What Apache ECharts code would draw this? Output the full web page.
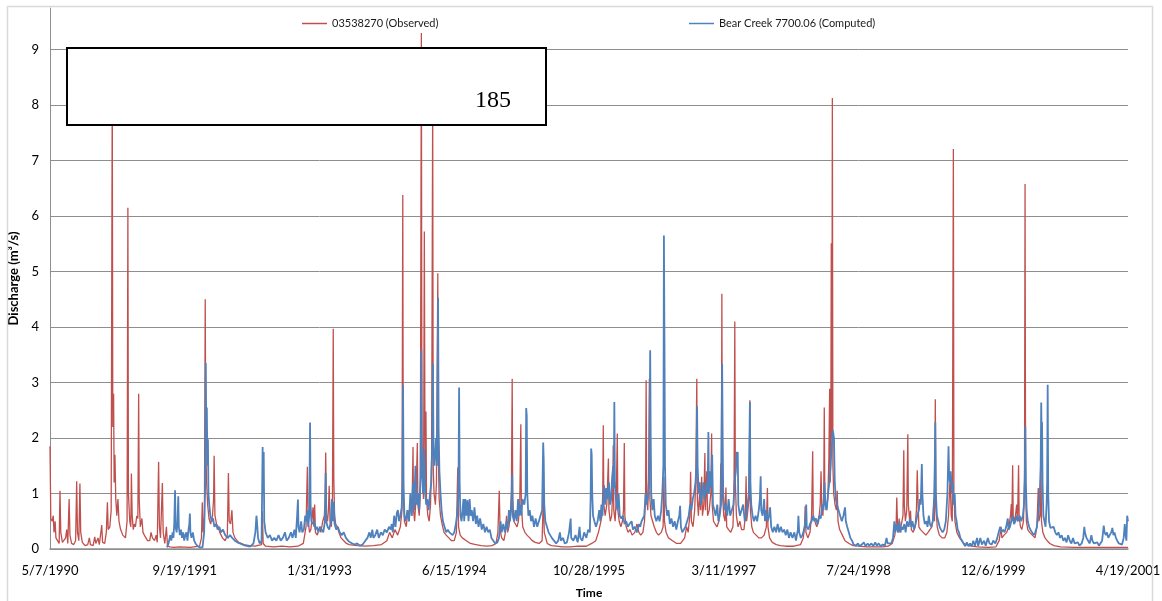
<!DOCTYPE html>
<html>
<head>
<meta charset="utf-8">
<script src="https://cdn.jsdelivr.net/npm/echarts@6/dist/echarts.min.js"></script>
<style>
  html, body { margin: 0; padding: 0; background: #fff; }
  #chart { width: 1162px; height: 601px; }
</style>
</head>
<body>
<div id="chart"></div>
<script>
// Daily discharge, Bear Creek. x = days since 5/7/1990, y = discharge (m3/s)
const tickLabels = ['5/7/1990', '9/19/1991', '1/31/1993', '6/15/1994', '10/28/1995',
  '3/11/1997', '7/24/1998', '12/6/1999', '4/19/2001'];
const seriesNames = ['03538270 (Observed)', 'Bear Creek 7700.06 (Computed)'];
const noteText = '185';

const observed = [
[0,1.85],[3,0.55],[8,0.5],[12,0.6],[15,0.3],[19,0.5],[22,0.2],[28,0.15],[34,0.1],[37,1.05],[40,0.3],[46,0.12],[52,0.1],[58,0.2],[62,0.35],[66,0.1],[71,0.9],[74,0.25],[80,0.1],[88,0.08],[95,0.15],[99,1.22],[102,0.3],[107,0.15],[111,1.18],[114,0.3],[120,0.12],[130,0.06],[140,0.08],[146,0.2],[150,0.08],[160,0.06],[166,0.22],[170,0.1],[178,0.2],[183,0.08],[188,0.1],[192,0.43],[195,0.12],[203,0.1],[209,0.3],[213,0.84],[216,0.35],[222,0.4],[227,0.7],[231,8.4],[233,2.2],[236,2.8],[238,1.2],[241,1.7],[244,0.9],[248,0.6],[252,0.9],[256,0.5],[262,0.35],[270,0.25],[280,0.2],[286,0.5],[289,6.15],[291,1.0],[296,0.5],[300,0.4],[302,1.36],[305,0.6],[309,0.35],[313,0.45],[317,0.4],[322,0.6],[326,0.55],[329,2.8],[331,0.9],[335,0.4],[341,0.55],[345,0.3],[350,0.25],[356,0.2],[362,0.15],[370,0.15],[375,0.3],[380,0.2],[388,0.15],[394,0.25],[398,0.12],[403,1.57],[406,0.4],[410,0.2],[417,1.19],[420,0.3],[426,0.1],[432,0.4],[436,0.05],[445,0.04],[460,0.03],[480,0.04],[520,0.03],[555,0.05],
[562,0.2],[565,0.84],[568,0.3],[573,0.6],[576,4.5],[578,1.9],[581,1.2],[585,0.8],[590,0.55],[596,0.45],[603,0.6],[607,0.9],[609,1.68],[612,0.6],[618,0.45],[624,0.4],[630,0.3],[640,0.2],[650,0.15],[658,0.25],[662,1.37],[665,0.5],[670,0.45],[675,0.7],[679,0.3],[686,0.2],[700,0.12],[720,0.08],[740,0.06],[760,0.05],[785,0.08],[788,0.68],[791,0.1],[800,0.05],[830,0.04],[860,0.05],[890,0.04],[920,0.05],[940,0.1],[950,0.4],[955,1.48],[958,0.5],[963,0.3],[968,0.35],[973,0.6],[976,0.75],[979,0.4],[982,0.8],[985,0.3],[992,0.25],[1000,0.4],[1005,0.3],[1012,0.5],[1018,0.6],[1021,0.9],[1023,1.74],[1026,0.6],[1030,0.5],[1033,0.7],[1036,1.14],[1039,0.5],[1044,0.4],[1048,0.8],[1051,3.97],[1053,1.3],[1056,0.6],[1060,0.45],[1066,0.4],[1072,0.3],[1080,0.2],[1090,0.15],[1100,0.1],
[1110,0.08],[1140,0.06],[1170,0.05],[1200,0.06],[1230,0.08],[1250,0.15],[1260,0.3],[1270,0.2],[1280,0.35],[1290,0.25],[1300,0.4],[1306,0.7],[1309,6.38],[1311,1.0],[1315,0.5],[1322,0.4],[1328,0.7],[1333,0.5],[1338,0.9],[1343,0.6],[1347,1.84],[1349,0.7],[1353,0.5],[1358,0.9],[1363,1.91],[1365,0.8],[1370,0.6],[1374,1.0],[1378,9.3],[1380,2.0],[1383,1.2],[1386,0.9],[1389,5.72],[1391,2.5],[1393,1.0],[1395,2.48],[1397,0.9],[1402,0.6],[1407,0.5],[1412,0.8],[1416,1.7],[1420,8.0],[1422,1.5],[1425,1.0],[1430,0.8],[1434,1.2],[1439,4.97],[1441,1.7],[1444,0.9],[1449,0.6],[1455,0.45],[1462,0.3],[1470,0.25],[1480,0.2],[1490,0.15],[1500,0.15],[1508,0.3],[1513,1.47],[1516,0.4],[1522,0.25],[1530,0.2],[1545,0.15],[1560,0.1],[1580,0.08],[1600,0.06],[1620,0.05],[1640,0.06],[1655,0.1],[1662,0.3],[1667,1.05],[1670,0.35],[1676,0.2],[1684,0.15],[1690,0.3],[1694,0.6],[1698,0.3],[1703,0.4],[1708,0.6],[1712,1.0],[1715,3.07],[1717,0.9],[1721,0.5],[1727,0.45],[1733,0.4],[1738,0.5],[1743,0.8],[1747,2.25],[1749,0.8],[1754,0.4],[1762,0.3],[1770,0.25],[1780,0.2],[1790,0.15],[1800,0.12],[1815,0.1],[1826,0.15],[1831,1.0],[1834,0.3],[1845,0.1],[1860,0.06],[1880,0.05],[1900,0.04],[1930,0.04],[1960,0.05],[1990,0.05],
[2010,0.1],[2025,0.15],[2035,0.3],[2042,0.45],[2048,0.6],[2051,1.0],[2053,2.23],[2055,0.8],[2060,0.6],[2066,0.8],[2069,1.2],[2072,1.63],[2074,0.7],[2079,0.5],[2084,0.6],[2088,1.0],[2090,1.87],[2092,0.7],[2097,0.5],[2101,0.9],[2105,2.08],[2107,0.7],[2112,0.5],[2118,0.4],[2124,0.5],[2128,0.7],[2131,1.91],[2133,0.6],[2138,0.4],[2145,0.3],[2152,0.35],[2160,0.25],[2170,0.3],[2178,0.45],[2185,0.3],[2192,0.25],[2200,0.3],[2206,0.5],[2210,1.0],[2212,3.04],[2214,0.9],[2218,0.7],[2221,1.2],[2224,3.07],[2226,0.9],[2230,0.6],[2236,0.5],[2242,0.4],[2250,0.3],[2258,0.25],[2268,0.3],[2275,0.4],[2278,1.3],[2280,0.5],[2286,0.3],[2295,0.2],[2310,0.15],[2325,0.1],[2340,0.1],[2355,0.2],[2362,0.4],[2368,0.3],[2374,0.6],[2377,1.39],[2380,0.5],[2386,0.4],[2392,0.7],[2396,1.2],[2400,3.07],[2402,0.9],[2406,0.6],[2410,1.0],[2414,0.7],[2418,1.3],[2421,0.6],[2426,0.8],[2430,1.73],[2432,0.7],[2437,1.4],[2440,0.6],[2446,0.7],[2452,1.0],[2455,2.08],[2457,0.8],[2462,0.5],[2468,0.45],[2475,0.4],[2482,0.5],[2487,0.8],[2489,1.54],[2491,1.0],[2493,4.6],[2495,1.0],[2500,0.6],[2505,0.5],[2508,1.11],[2511,0.4],[2518,0.35],[2526,0.3],[2534,0.4],[2538,1.0],[2541,4.1],[2543,1.2],[2547,0.6],[2553,0.4],[2560,0.5],[2566,0.35],[2575,0.35],[2580,0.6],[2583,1.31],[2585,0.5],[2590,0.5],[2594,0.9],[2597,2.68],[2599,0.7],[2604,0.4],[2610,0.3],[2620,0.25],[2630,0.2],[2640,0.2],[2650,0.25],[2658,0.4],[2662,1.1],[2664,0.4],[2670,0.2],[2680,0.12],[2695,0.08],[2710,0.06],[2730,0.05],[2760,0.05],[2785,0.08],
[2795,0.2],[2800,0.4],[2802,0.77],[2805,0.3],[2812,0.2],[2820,0.3],[2826,0.6],[2830,1.76],[2832,0.6],[2838,0.5],[2845,0.4],[2852,0.5],[2858,0.8],[2861,1.4],[2864,0.7],[2868,0.6],[2871,1.0],[2873,2.55],[2875,1.0],[2880,0.7],[2886,0.9],[2890,1.6],[2893,2.89],[2895,1.2],[2897,1.5],[2899,5.51],[2901,2.0],[2903,8.13],[2905,1.5],[2908,1.0],[2913,0.8],[2918,0.7],[2921,1.05],[2924,0.5],[2930,0.35],[2940,0.25],[2950,0.15],[2965,0.1],[2980,0.06],[3000,0.05],[3030,0.04],[3060,0.04],[3090,0.04],[3110,0.05],[3125,0.1],[3135,0.25],[3140,0.5],[3142,0.93],[3145,0.4],[3148,0.3],[3151,0.55],[3154,0.3],[3160,0.3],[3165,0.6],[3168,1.78],[3170,0.8],[3174,0.5],[3179,0.7],[3183,2.07],[3185,0.8],[3190,0.5],[3193,0.69],[3196,0.35],[3203,0.3],[3210,0.4],[3215,0.7],[3218,1.42],[3220,1.0],[3224,0.4],[3230,0.35],[3240,0.3],[3250,0.25],[3258,0.3],[3265,0.35],[3272,0.4],[3277,0.6],[3279,0.89],[3282,0.5],[3285,2.7],[3287,0.8],[3292,0.4],[3300,0.25],[3310,0.2],[3320,0.2],[3328,0.3],[3334,0.6],[3340,1.3],[3344,0.6],[3348,0.5],[3352,7.21],[3354,1.0],[3358,0.5],[3365,0.3],[3375,0.2],[3390,0.1],[3410,0.06],[3440,0.04],[3480,0.03],[3510,0.04],[3522,0.15],[3529,0.4],[3532,0.2],[3540,0.25],[3550,0.3],[3558,0.4],[3564,0.6],[3567,0.81],[3569,0.5],[3572,1.51],[3574,0.6],[3580,0.5],[3587,0.8],[3590,0.5],[3594,1.51],[3596,0.6],[3601,0.4],[3606,0.35],[3612,0.5],[3616,1.2],[3618,6.58],[3620,1.2],[3623,0.5],[3628,0.35],[3635,0.3],[3645,0.25],[3655,0.2],[3662,0.4],[3667,1.1],[3669,0.5],[3674,0.6],[3677,1.6],[3679,0.5],[3684,0.3],[3692,0.2],[3700,0.15],[3710,0.1],[3725,0.06],[3750,0.04],[3800,0.03],[3850,0.03],[3900,0.03],[3950,0.03],[4000,0.03]
];

const computed = [
[434,0.03],[440,0.1],[446,0.25],[450,0.15],[455,0.3],[458,0.2],[461,0.45],[464,1.06],[466,0.4],[470,0.3],[473,0.5],[476,0.95],[478,0.4],[482,0.25],[486,0.35],[490,0.2],[494,0.3],[498,0.15],[502,0.25],[506,0.3],[510,0.15],[514,0.35],[517,0.45],[519,0.64],[521,0.3],[525,0.2],[530,0.3],[535,0.15],[540,0.1],[548,0.05],[556,0.03],[566,0.03],[572,0.3],[576,1.2],[578,3.35],[580,2.0],[582,2.55],[584,1.5],[586,1.98],[588,1.0],[591,0.8],[595,0.6],[600,0.5],[605,0.55],[610,0.4],[616,0.45],[622,0.35],[628,0.4],[635,0.3],[642,0.35],[650,0.25],[660,0.2],[668,0.25],[676,0.2],[686,0.15],[695,0.12],[705,0.1],[715,0.08],[725,0.06],[735,0.05],[745,0.05],[755,0.1],[762,0.3],[766,0.6],[768,0.5],[772,0.2],[778,0.1],[785,0.15],[789,1.84],[791,1.0],[793,1.75],[795,0.5],[800,0.3],[808,0.2],[816,0.25],[824,0.15],[832,0.2],[840,0.15],[848,0.25],[856,0.15],[864,0.2],[872,0.3],[878,0.15],[886,0.2],[894,0.3],[900,0.2],[907,0.35],[912,0.2],[917,0.6],[920,0.89],[922,0.4],[926,0.3],[932,0.5],[936,0.3],[942,0.35],[947,0.6],[951,0.5],[955,0.7],[958,0.4],[962,0.6],[965,2.28],[967,0.8],[970,0.5],[975,0.45],[980,0.5],[985,0.35],[990,0.4],[996,0.3],[1002,0.4],[1008,0.35],[1014,0.3],[1020,0.5],[1023,1.37],[1025,0.5],[1030,0.4],[1036,0.35],[1042,0.5],[1046,0.9],[1049,0.5],[1053,0.85],[1056,0.45],[1062,0.35],[1068,0.4],[1075,0.3],[1082,0.25],[1090,0.3],[1098,0.2],[1106,0.15],[1114,0.12],[1122,0.1],[1130,0.08],[1140,0.1],[1150,0.06],[1160,0.08],[1170,0.15],[1178,0.2],[1185,0.3],[1190,0.2],[1196,0.35],[1200,0.2],[1207,0.25],[1214,0.35],[1220,0.2],[1228,0.3],[1235,0.25],[1242,0.35],[1250,0.3],[1258,0.4],[1264,0.35],[1268,0.45],[1272,0.3],[1277,0.6],[1282,0.4],[1287,0.65],[1291,0.7],[1295,0.5],[1300,0.6],[1305,0.75],[1308,1.2],[1310,2.95],[1312,1.16],[1315,0.6],[1320,0.5],[1326,0.7],[1332,0.5],[1337,1.0],[1342,0.6],[1347,1.2],[1351,0.7],[1356,1.5],[1360,0.8],[1365,1.0],[1370,0.7],[1375,1.3],[1378,3.58],[1380,1.5],[1384,1.0],[1388,1.8],[1392,1.0],[1396,0.8],[1400,0.9],[1405,0.7],[1410,1.0],[1415,1.2],[1419,2.0],[1421,3.34],[1423,1.8],[1427,1.5],[1432,2.0],[1436,1.5],[1440,4.53],[1442,2.2],[1445,1.4],[1449,1.0],[1453,0.7],[1458,0.5],[1464,0.4],[1470,0.3],[1476,0.35],[1482,0.3],[1488,0.3],[1494,0.25],[1500,0.3],[1506,0.45],[1510,0.6],[1514,0.8],[1516,1.3],[1518,2.91],[1520,1.2],[1523,0.6],[1527,0.5],[1531,0.7],[1534,0.9],[1537,0.5],[1541,0.9],[1545,0.6],[1549,0.88],[1553,0.5],[1557,0.9],[1561,0.6],[1565,0.7],[1570,0.5],[1575,0.75],[1580,0.45],[1585,0.6],[1590,0.4],[1596,0.55],[1602,0.35],[1608,0.45],[1614,0.3],[1620,0.4],[1626,0.3],[1632,0.35],[1638,0.2],[1645,0.15],[1652,0.1],[1660,0.12],[1666,0.2],[1672,0.5],[1676,0.3],[1682,0.45],[1688,0.3],[1694,0.5],[1698,0.35],[1703,0.7],[1707,0.5],[1712,0.8],[1715,1.35],[1717,0.6],[1722,0.5],[1727,0.7],[1732,0.5],[1737,0.9],[1741,0.6],[1745,0.8],[1749,0.6],[1753,0.9],[1760,0.8],[1765,1.0],[1767,2.54],[1769,2.4],[1771,1.0],[1775,0.6],[1780,0.7],[1785,0.5],[1790,0.6],[1796,0.4],[1802,0.55],[1808,0.4],[1814,0.5],[1820,0.6],[1826,0.7],[1830,1.92],[1832,1.6],[1834,0.8],[1838,0.5],[1844,0.4],[1850,0.3],[1856,0.25],[1862,0.2],[1870,0.15],[1878,0.1],[1886,0.15],[1892,0.3],[1896,0.15],[1904,0.2],[1910,0.1],[1918,0.12],[1926,0.3],[1932,0.55],[1934,0.2],[1942,0.15],[1950,0.25],[1958,0.12],[1965,0.4],[1968,0.2],[1975,0.15],[1982,0.3],[1990,0.2],[1997,0.35],[2003,0.3],[2006,0.9],[2008,1.81],[2010,1.7],[2012,1.0],[2015,0.6],[2020,0.5],[2026,0.4],[2032,0.5],[2038,0.7],[2042,0.5],[2046,0.8],[2050,0.6],[2056,1.15],[2060,0.8],[2064,1.1],[2068,0.9],[2074,1.2],[2078,0.8],[2082,0.9],[2086,1.3],[2090,1.5],[2092,1.1],[2094,2.65],[2096,1.2],[2100,0.9],[2105,0.7],[2110,1.0],[2114,0.6],[2120,0.55],[2126,0.6],[2132,0.45],[2138,0.5],[2144,0.4],[2150,0.45],[2158,0.5],[2163,0.35],[2170,0.4],[2178,0.3],[2185,0.45],[2190,0.4],[2195,0.5],[2200,0.55],[2205,0.6],[2210,1.0],[2214,0.8],[2220,1.0],[2224,1.5],[2227,3.58],[2229,2.0],[2231,1.0],[2235,0.7],[2240,0.9],[2244,0.6],[2250,0.5],[2256,0.6],[2262,0.5],[2268,0.7],[2272,1.0],[2276,1.5],[2278,5.65],[2280,3.73],[2282,1.5],[2285,0.8],[2290,0.6],[2295,0.7],[2300,0.45],[2306,0.55],[2312,0.4],[2318,0.5],[2324,0.35],[2330,0.5],[2335,0.6],[2338,0.78],[2341,0.4],[2346,0.3],[2352,0.35],[2358,0.4],[2364,0.5],[2370,0.6],[2375,0.8],[2380,0.7],[2385,0.9],[2390,1.0],[2395,1.2],[2399,1.5],[2401,2.57],[2403,1.5],[2407,1.0],[2411,1.2],[2415,0.8],[2420,1.0],[2424,1.2],[2428,0.9],[2432,1.0],[2436,1.2],[2440,1.0],[2443,2.11],[2445,1.0],[2449,1.4],[2453,1.1],[2457,1.7],[2460,0.8],[2465,0.7],[2470,0.6],[2476,0.8],[2480,0.5],[2485,0.6],[2490,0.8],[2494,3.34],[2496,2.0],[2498,1.0],[2503,0.7],[2508,0.8],[2513,0.6],[2518,0.9],[2524,0.6],[2530,0.7],[2536,0.8],[2540,1.2],[2545,1.4],[2548,1.75],[2550,1.5],[2552,1.75],[2554,0.8],[2560,0.6],[2566,0.7],[2572,0.8],[2578,0.5],[2583,0.6],[2588,0.8],[2593,1.0],[2597,2.65],[2599,1.2],[2602,0.8],[2607,0.6],[2612,0.5],[2618,0.6],[2624,0.5],[2630,0.7],[2634,0.9],[2637,1.31],[2639,0.7],[2644,0.6],[2650,0.9],[2653,0.5],[2658,0.7],[2663,0.5],[2668,0.6],[2672,0.75],[2676,0.4],[2682,0.3],[2688,0.4],[2694,0.3],[2700,0.45],[2706,0.3],[2712,0.4],[2718,0.3],[2724,0.35],[2730,0.25],[2736,0.35],[2742,0.2],[2748,0.3],[2755,0.2],[2762,0.3],[2768,0.15],[2775,0.35],[2777,0.6],[2780,0.3],[2786,0.2],[2792,0.25],[2798,0.35],[2803,0.5],[2806,0.8],[2808,0.4],[2814,0.35],[2820,0.45],[2826,0.5],[2832,0.6],[2836,0.5],[2842,0.55],[2848,0.45],[2854,0.6],[2860,0.55],[2866,0.8],[2870,0.7],[2874,1.2],[2877,0.8],[2882,0.7],[2887,1.0],[2892,1.2],[2896,1.5],[2900,1.8],[2904,2.14],[2906,2.1],[2909,2.0],[2912,1.2],[2916,0.9],[2920,0.8],[2926,0.7],[2932,0.6],[2938,0.5],[2944,0.6],[2948,0.7],[2950,0.75],[2953,0.5],[2958,0.4],[2964,0.3],[2970,0.2],[2976,0.15],[2982,0.08],[2990,0.06],[2998,0.1],[3004,0.05],[3012,0.08],[3020,0.12],[3026,0.05],[3034,0.1],[3040,0.06],[3048,0.1],[3055,0.05],[3062,0.12],[3068,0.06],[3075,0.1],[3082,0.05],[3090,0.08],[3098,0.06],[3104,0.2],[3108,0.1],[3115,0.08],[3122,0.1],[3128,0.2],[3133,0.5],[3136,0.3],[3142,0.45],[3146,0.3],[3152,0.5],[3156,0.3],[3160,0.4],[3165,0.35],[3170,0.45],[3175,0.3],[3180,0.5],[3186,0.4],[3191,0.55],[3196,0.4],[3200,0.5],[3206,0.35],[3212,0.45],[3218,0.6],[3224,0.7],[3228,0.9],[3231,0.8],[3235,1.53],[3237,1.0],[3241,0.6],[3246,0.45],[3252,0.5],[3256,0.4],[3261,0.6],[3265,0.45],[3270,0.4],[3276,0.5],[3280,0.8],[3283,1.5],[3285,2.28],[3287,1.0],[3291,0.6],[3296,0.5],[3301,0.4],[3306,0.35],[3312,0.3],[3318,0.35],[3324,0.5],[3330,1.0],[3334,1.85],[3336,1.4],[3339,1.2],[3342,1.4],[3345,1.21],[3347,1.0],[3350,1.2],[3353,0.8],[3357,1.0],[3360,0.6],[3364,0.5],[3368,0.35],[3373,0.3],[3378,0.2],[3384,0.15],[3390,0.1],[3396,0.05],[3402,0.12],[3408,0.05],[3414,0.1],[3420,0.05],[3426,0.15],[3432,0.06],[3440,0.2],[3444,0.05],[3452,0.2],[3458,0.08],[3466,0.15],[3472,0.06],[3480,0.2],[3486,0.1],[3494,0.08],[3500,0.15],[3508,0.1],[3515,0.2],[3520,0.3],[3526,0.4],[3530,0.3],[3536,0.35],[3542,0.3],[3548,0.4],[3552,0.5],[3554,0.55],[3557,0.35],[3562,0.4],[3567,0.5],[3572,0.6],[3577,0.45],[3582,0.5],[3587,0.6],[3592,0.5],[3598,0.6],[3604,0.5],[3610,0.6],[3614,0.8],[3617,1.3],[3619,2.21],[3621,1.2],[3624,0.7],[3628,0.5],[3633,0.4],[3638,0.35],[3644,0.3],[3650,0.25],[3656,0.3],[3662,0.4],[3668,0.7],[3672,0.9],[3676,1.5],[3678,2.64],[3680,1.8],[3681,2.29],[3683,1.2],[3686,0.6],[3690,0.5],[3694,0.4],[3698,0.8],[3700,1.2],[3702,2.96],[3704,1.0],[3707,0.5],[3712,0.38],[3718,0.35],[3724,0.4],[3730,0.3],[3736,0.25],[3742,0.3],[3748,0.2],[3754,0.25],[3760,0.15],[3766,0.2],[3772,0.12],[3778,0.25],[3784,0.15],[3790,0.1],[3796,0.2],[3802,0.1],[3808,0.08],[3814,0.12],[3820,0.06],[3828,0.1],[3834,0.2],[3838,0.4],[3840,0.3],[3846,0.2],[3852,0.15],[3858,0.1],[3864,0.25],[3868,0.15],[3874,0.1],[3880,0.08],[3886,0.12],[3892,0.06],[3898,0.08],[3904,0.15],[3910,0.42],[3913,0.3],[3918,0.25],[3922,0.3],[3927,0.2],[3932,0.25],[3938,0.3],[3942,0.38],[3946,0.25],[3950,0.3],[3955,0.2],[3960,0.15],[3966,0.1],[3972,0.12],[3978,0.08],[3984,0.2],[3988,0.45],[3990,0.3],[3994,0.15],[3997,0.6],[4000,0.5]
];

const chart = echarts.init(document.getElementById('chart'), null, { renderer: 'canvas' });
const FONT = 'Lato, "Open Sans", sans-serif';
const GRID_COLOR = '#8e8e8e';
const legendText = { fontFamily: FONT, fontSize: 11, color: '#1a1a1a' };

chart.setOption({
  animation: false,
  backgroundColor: '#ffffff',
  textStyle: { fontFamily: FONT },
  grid: { left: 50, right: 34, top: 8, bottom: 52, containLabel: false, outerBoundsMode: 'none' },
  legend: [
    {
      data: [seriesNames[0]], left: 297, top: 13,
      icon: 'rect', itemWidth: 25, itemHeight: 1.5,
      textStyle: legendText
    },
    {
      data: [seriesNames[1]], left: 684, top: 13,
      icon: 'rect', itemWidth: 25, itemHeight: 1.5,
      textStyle: legendText
    }
  ],
  xAxis: {
    type: 'value',
    min: 0, max: 4000, interval: 500,
    name: 'Time', nameLocation: 'middle', nameGap: 38,
    nameTextStyle: { fontFamily: FONT, fontWeight: 'bold', fontSize: 12, color: '#000' },
    axisLine: { show: true, lineStyle: { color: GRID_COLOR, width: 1.5 } },
    axisTick: { show: false },
    splitLine: { show: false },
    axisLabel: {
      margin: 15, fontSize: 13, color: '#000', fontFamily: FONT,
      showMinLabel: true, showMaxLabel: true,
      formatter: v => tickLabels[Math.round(v / 500)] || ''
    }
  },
  yAxis: {
    type: 'value',
    min: 0, max: 9.75, interval: 1,
    name: 'Discharge (m³/s)', nameLocation: 'middle', nameGap: 26, nameRotate: 90,
    nameTextStyle: { fontFamily: FONT, fontWeight: 'bold', fontSize: 13, color: '#000' },
    axisLine: { show: true, lineStyle: { color: GRID_COLOR, width: 1 } },
    axisTick: { show: false },
    splitLine: { show: true, showMaxLine: false, lineStyle: { color: GRID_COLOR, width: 1 } },
    axisLabel: {
      margin: 11, fontSize: 13, color: '#000', fontFamily: FONT,
      showMaxLabel: false
    }
  },
  series: [
    {
      name: seriesNames[0], type: 'line', data: observed,
      showSymbol: false, symbol: 'none', z: 2,
      lineStyle: { color: '#C0504D', width: 1.3 },
      itemStyle: { color: '#C0504D' }
    },
    {
      name: seriesNames[1], type: 'line', data: computed,
      showSymbol: false, symbol: 'none', z: 3,
      lineStyle: { color: '#4F81BD', width: 1.8 },
      itemStyle: { color: '#4F81BD' }
    }
  ],
  graphic: [
    {
      type: 'rect', z: 1, silent: true,
      shape: { x: 7.5, y: 6.5, width: 1145, height: 620 },
      style: { fill: 'none', stroke: '#d9d9d9', lineWidth: 1.5 }
    },
    {
      type: 'group', z: 100,
      children: [
        {
          type: 'rect', z: 100, silent: true,
          shape: { x: 67, y: 48, width: 479, height: 77 },
          style: { fill: '#ffffff', stroke: '#000000', lineWidth: 2 }
        },
        {
          type: 'text', z: 101, silent: true,
          x: 493, y: 101,
          style: {
            text: noteText, fill: '#000', fontFamily: '"Liberation Serif", "DejaVu Serif", serif',
            fontSize: 24, align: 'center', verticalAlign: 'middle'
          }
        }
      ]
    }
  ]
});
</script>
</body>
</html>
